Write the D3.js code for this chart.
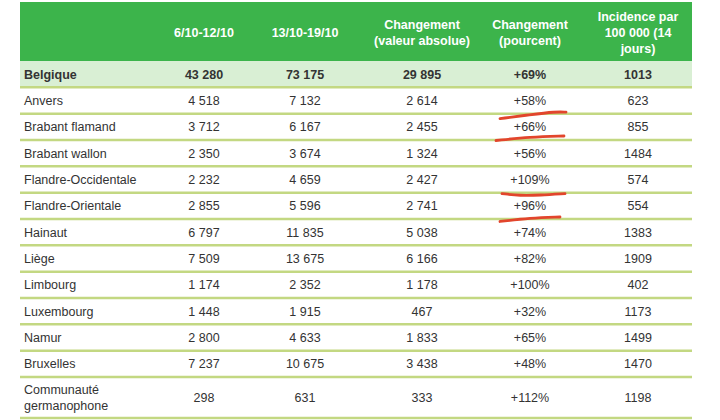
<!DOCTYPE html>
<html><head><meta charset="utf-8">
<script src="https://cdn.jsdelivr.net/npm/d3@7"></script>
<style>
html,body{margin:0;padding:0;background:#fff;}
svg{display:block;font-family:"Liberation Sans",Arial,sans-serif;}
</style></head>
<body><svg id="c" width="720" height="420"></svg>
<script>
const headers = [[""],["6/10-12/10"],["13/10-19/10"],["Changement","(valeur absolue)"],["Changement","(pourcent)"],["Incidence par","100 000 (14","jours)"]];
const regions = ["Belgique","Anvers","Brabant flamand","Brabant wallon","Flandre-Occidentale","Flandre-Orientale","Hainaut","Liège","Limbourg","Luxembourg","Namur","Bruxelles","Communauté germanophone"];
const week1 = [43280,4518,3712,2350,2232,2855,6797,7509,1174,1448,2800,7237,298];
const week2 = [73175,7132,6167,3674,4659,5596,11835,13675,2352,1915,4633,10675,631];
const changeAbs = [29895,2614,2455,1324,2427,2741,5038,6166,1178,467,1833,3438,333];
const changePct = [69,58,66,56,109,96,74,82,100,32,65,48,112];
const incidence = [1013,623,855,1484,574,554,1383,1909,402,1173,1499,1470,1198];
const marked = ["Anvers","Brabant flamand","Flandre-Occidentale","Flandre-Orientale"];

const svg = d3.select("#c");
const loc = d3.formatLocale({decimal:",",thousands:"\u202F",grouping:[3],currency:["","€"]});
const fmtN = v => loc.format(",d")(v).replace(/\u202F/g," ");
const fmtP = v => "+" + v + "%";

const left = 20, right = 692;
const headTop = 2, headBottom = 61;
// row heights
const rowH = regions.map((r,i)=> i===regions.length-1 ? 41 : 26.33);
const rowTops = [headBottom, ...d3.cumsum(rowH).map(v=>headBottom+v)];
const y = d3.scaleOrdinal().domain(regions).range(regions.map((r,i)=>rowTops[i]));
const h = d3.scaleOrdinal().domain(regions).range(rowH);

const colKeys = ["name","w1","w2","abs","pct","inc"];
const x = d3.scaleOrdinal().domain(colKeys).range([24,204,305,422,530,638]);

// header
svg.append("rect").attr("x",left).attr("y",headTop).attr("width",right-left).attr("height",headBottom-headTop).attr("fill","#3cb44b");
headers.forEach((lines,ci)=>{
  const cy = (headTop+headBottom)/2 + 1;
  const lh = 16;
  const t = svg.append("text").attr("fill","#fff").attr("font-weight","bold").attr("font-size",12.5)
    .attr("text-anchor","middle").attr("x",x(colKeys[ci]));
  lines.forEach((l,li)=>{
    t.append("tspan").attr("x",x(colKeys[ci])).attr("y",cy+(li-(lines.length-1)/2)*lh).attr("dy","0.35em").text(l);
  });
});

// Belgique background
svg.append("rect").attr("x",left).attr("y",y("Belgique")).attr("width",right-left).attr("height",h("Belgique")).attr("fill","#d9efd4");

const rows = regions.map((r,i)=>({r,i,vals:[r,fmtN(week1[i]),fmtN(week2[i]),fmtN(changeAbs[i]),fmtP(changePct[i]),String(incidence[i])]}));

// separators
svg.selectAll("line.sep").data(rows).join("line").attr("class","sep")
  .attr("x1",left).attr("x2",right)
  .attr("y1",d=>y(d.r)+h(d.r)).attr("y2",d=>y(d.r)+h(d.r))
  .attr("stroke","#c3d882").attr("stroke-width",2.5);

const g = svg.selectAll("g.row").data(rows).join("g").attr("class","row");
g.each(function(d){
  const gg = d3.select(this);
  const cy = y(d.r)+h(d.r)/2;
  d.vals.forEach((v,ci)=>{
    const t = gg.append("text").attr("fill","#333").attr("font-size",12.5)
      .attr("font-weight",d.i===0?"bold":"normal")
      .attr("text-anchor",ci===0?"start":"middle").attr("x",x(colKeys[ci]));
    if(ci===0 && v==="Communauté germanophone"){
      t.append("tspan").attr("x",x("name")).attr("y",cy-8).attr("dy","0.35em").text("Communauté");
      t.append("tspan").attr("x",x("name")).attr("y",cy+8).attr("dy","0.35em").text("germanophone");
    } else {
      t.attr("y",cy).attr("dy","0.35em").text(v);
    }
  });
});

// hand-drawn red underlines
const strokes = {
  "Anvers":[[-30,5],[0,1],[26,-2],[36,-1.5]],
  "Brabant flamand":[[-34,0.5],[0,-3],[34,-4]],
  "Flandre-Occidentale":[[-28,1],[-10,3],[10,2.5],[35,1]],
  "Flandre-Orientale":[[-30,2.5],[0,-1],[30,-2]]
};
const line = d3.line().curve(d3.curveBasis);
marked.forEach(r=>{
  const by = y(r)+h(r), cx = x("pct");
  svg.append("path").attr("d",line(strokes[r].map(p=>[cx+p[0],by+p[1]])))
    .attr("fill","none").attr("stroke","#e2452c").attr("stroke-width",2.8).attr("stroke-linecap","round");
});
</script></body></html>
